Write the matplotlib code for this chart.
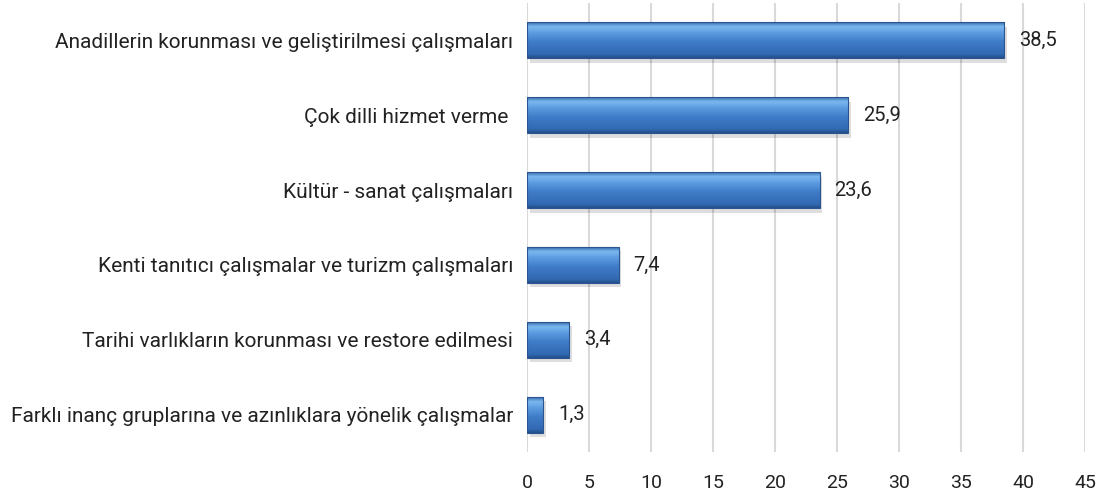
import numpy as np
import matplotlib.pyplot as plt
from matplotlib.colors import LinearSegmentedColormap
from matplotlib.patches import Rectangle

categories = [
    "Anadillerin korunması ve geliştirilmesi çalışmaları",
    "Çok dilli hizmet verme ",
    "Kültür - sanat çalışmaları",
    "Kenti tanıtıcı çalışmalar ve turizm çalışmaları",
    "Tarihi varlıkların korunması ve restore edilmesi",
    "Farklı inanç gruplarına ve azınlıklara yönelik çalışmalar",
]
values = [38.5, 25.9, 23.6, 7.4, 3.4, 1.3]
value_labels = ["38,5", "25,9", "23,6", "7,4", "3,4", "1,3"]
xticks = [0, 5, 10, 15, 20, 25, 30, 35, 40, 45]

plt.rcParams["font.family"] = ["Roboto", "DejaVu Sans"]

fig = plt.figure(figsize=(11.04, 5.03), dpi=100)
ax = fig.add_axes([0.4774, 0.1014, 0.5054, 0.8926])

# vertical gradient, top to bottom: light band near the top, darker towards the bottom
grad_cmap = LinearSegmentedColormap.from_list(
    "bar", [(0.0, "#3a6eae"), (0.12, "#7bb8f0"), (0.3, "#5c9be0"),
            (0.55, "#3f7cc8"), (0.9, "#3269b2"), (1.0, "#24508a")]
)
grad = np.linspace(0, 1, 64).reshape(-1, 1)

ypos = np.arange(len(categories))[::-1]
h = 0.48
for y, v, lab in zip(ypos, values, value_labels):
    # soft shadow
    ax.add_patch(Rectangle((0.2, y - h / 2 - 0.06), v, h, color="#000000",
                           alpha=0.13, lw=0, zorder=2))
    ax.imshow(grad, cmap=grad_cmap, aspect="auto",
              extent=(0, v, y - h / 2, y + h / 2), origin="upper", zorder=3)
    ax.add_patch(Rectangle((0, y - h / 2), v, h, fill=False,
                           ec="#2a5590", lw=0.8, zorder=4))
    ax.text(v + 1.2, y, lab, va="center", ha="left", fontsize=14.5,
            color="#222222")

ax.set_xlim(0, 45)
ax.set_ylim(-0.5, len(categories) - 0.5)
ax.set_xticks(xticks)
ax.set_xticklabels([str(t) for t in xticks], fontsize=14, color="#222222")
ax.set_yticks(ypos)
ax.set_yticklabels(categories, fontsize=15, color="#222222")
ax.tick_params(axis="both", length=0)
ax.tick_params(axis="x", pad=16)
ax.tick_params(axis="y", pad=10)
ax.xaxis.grid(True, color="#d9d9d9", lw=1.5, zorder=0)
ax.set_axisbelow(True)
for s in ax.spines.values():
    s.set_visible(False)

fig.savefig("out.png", dpi=100)
